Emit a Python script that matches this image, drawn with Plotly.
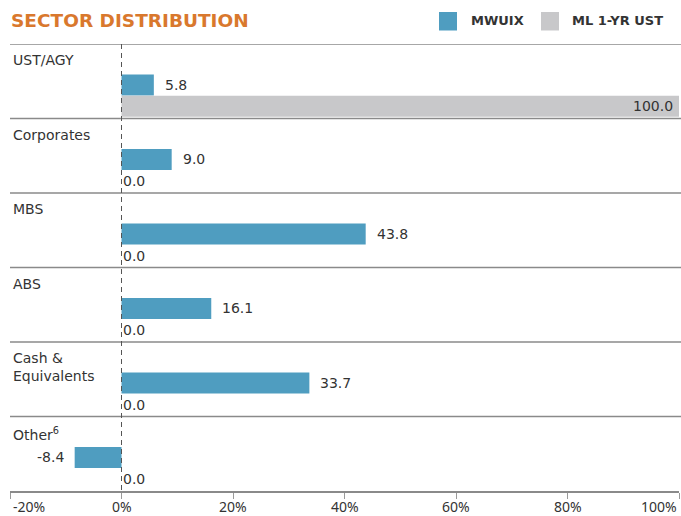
import plotly.graph_objects as go

categories = ["UST/AGY", "Corporates", "MBS", "ABS", "Cash &<br>Equivalents", "Other<sup>6</sup>"]
mwuix = [5.8, 9.0, 43.8, 16.1, 33.7, -8.4]
ml_1yr_ust = [100.0, 0.0, 0.0, 0.0, 0.0, 0.0]
tick_vals = [-20, 0, 20, 40, 60, 80, 100]
tick_text = ["-20%", "0%", "20%", "40%", "60%", "80%", "100%"]
series_names = ["MWUIX", "ML 1-YR UST"]

BLUE = "#4F9DC0"
GREY = "#C8C8CA"
TXT = "#333333"
ORANGE = "#D9782D"
LINE = "#8A8A8A"
FONT = "DejaVu Sans"
TICKFONT = "Noto Sans"

# plot area in pixels
PX0, PX1, PY0, PY1 = 10, 679, 44, 491
PW, PH = PX1 - PX0, PY1 - PY0


def px(x):
    return (x - PX0) / PW


def py(y):
    return (PY1 - y) / PH


n = len(categories)
y_blue = [i + 0.55 for i in range(n)]
y_grey = [i + 0.835 for i in range(n)]

fig = go.Figure()
fig.add_trace(go.Bar(x=mwuix, y=y_blue, orientation="h", width=0.28,
                     marker=dict(color=BLUE, line=dict(width=0)), name=series_names[0],
                     showlegend=False, hoverinfo="x"))
fig.add_trace(go.Bar(x=ml_1yr_ust, y=y_grey, orientation="h", width=0.28,
                     marker=dict(color=GREY, line=dict(width=0)), name=series_names[1],
                     showlegend=False, hoverinfo="x"))

ann = []
shapes = []
for i, cat in enumerate(categories):
    ann.append(dict(x=0, xref="paper", y=i + 0.085, yref="y", text=cat, showarrow=False,
                    xanchor="left", yanchor="top", xshift=1, align="left",
                    font=dict(family=FONT, size=14, color=TXT)))
    v = mwuix[i]
    ann.append(dict(x=v, y=y_blue[i], text=f"{v:.1f}", showarrow=False,
                    xanchor="left" if v >= 0 else "right", xshift=9 if v >= 0 else -9,
                    font=dict(family=FONT, size=14, color=TXT)))
    g = ml_1yr_ust[i]
    if g >= 90:
        ann.append(dict(x=g, y=y_grey[i], text=f"{g:.1f}", showarrow=False,
                        xanchor="right", xshift=-4,
                        font=dict(family=FONT, size=14, color=TXT)))
    else:
        ann.append(dict(x=g, y=y_grey[i] + 0.01, text=f"{g:.1f}", showarrow=False,
                        xanchor="left", xshift=-1,
                        font=dict(family=FONT, size=14, color=TXT)))
    shapes.append(dict(type="line", xref="paper", x0=0, x1=1.004, yref="y", y0=i, y1=i,
                       line=dict(color=LINE, width=1.5)))

shapes.append(dict(type="line", xref="x", x0=0, x1=0, yref="y", y0=0, y1=n,
                   line=dict(color="#555555", width=1, dash="5px,4px")))

# tick labels (edge labels kept inside the chart)
for k, (tv, tt) in enumerate(zip(tick_vals, tick_text)):
    anchor = "left" if k == 0 else ("right" if k == len(tick_vals) - 1 else "center")
    ann.append(dict(x=tv, xref="x", y=0, yref="paper", text=tt, showarrow=False,
                    xanchor=anchor, yanchor="middle", yshift=-15,
                    xshift=1 if k == 0 else 0,
                    font=dict(family=TICKFONT, size=14, color=TXT)))

# Title
ann.append(dict(x=0, xref="paper", y=py(20), yref="paper", text="<b>SECTOR DISTRIBUTION</b>",
                showarrow=False, xanchor="left", yanchor="middle", xshift=-1,
                font=dict(family=FONT, size=18.5, color=ORANGE)))
# Legend (custom)
leg = [(439, 469, BLUE, series_names[0]), (541, 570, GREY, series_names[1])]
for sx, tx, col, name in leg:
    shapes.append(dict(type="rect", xref="paper", yref="paper",
                       x0=px(sx), x1=px(sx + 18), y0=py(30.5), y1=py(12),
                       fillcolor=col, line=dict(width=0)))
    ann.append(dict(x=px(tx), xref="paper", y=py(21), yref="paper",
                    text=f"<b>{name}</b>", showarrow=False, xanchor="left", yanchor="middle",
                    font=dict(family=FONT, size=13, color=TXT)))

fig.update_layout(
    width=681, height=516,
    margin=dict(l=PX0, r=681 - PX1, t=PY0, b=516 - PY1),
    paper_bgcolor="white", plot_bgcolor="white",
    barmode="overlay",
    showlegend=False,
    xaxis=dict(range=[-20, 100], tickvals=tick_vals, showticklabels=False,
               showgrid=False, zeroline=False, showline=True, linecolor=LINE,
               linewidth=1.5, ticks="outside", ticklen=6, tickcolor="#9A9A9A", tickwidth=1.2),
    yaxis=dict(range=[n, 0], showgrid=False, zeroline=False, showticklabels=False,
               showline=False, ticks=""),
    annotations=ann, shapes=shapes,
)

fig.write_html("out.html", config={"displayModeBar": False},
               post_script="document.body.style.margin='0';document.body.style.overflow='hidden';")
